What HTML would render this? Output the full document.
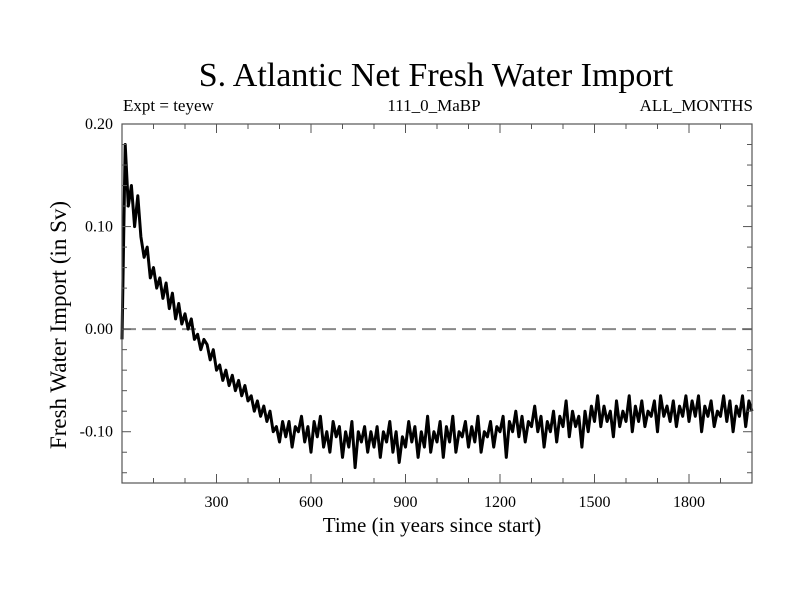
<!DOCTYPE html>
<html><head><meta charset="utf-8"><style>body{margin:0;background:#fff}svg{display:block;font-family:"Liberation Serif",serif}</style></head>
<body>
<svg id="chart" width="800" height="600">
<text x="436" y="86" font-size="34" text-anchor="middle">S. Atlantic Net Fresh Water Import</text>
<text x="123" y="111" font-size="17">Expt = teyew</text>
<text x="434" y="111" font-size="17" text-anchor="middle">111_0_MaBP</text>
<text x="753" y="111" font-size="17" text-anchor="end">ALL_MONTHS</text>
<text x="432" y="532" font-size="21" text-anchor="middle">Time (in years since start)</text>
<text transform="translate(66,325) rotate(-90)" font-size="23" text-anchor="middle">Fresh Water Import (in Sv)</text>
<g id="axes"></g>
</svg>
<script>
const xTicks=[300,600,900,1200,1500,1800];
const yTicks=[0.2,0.1,0,-0.1];
const yTickLabels=["0.20","0.10","0.00","-0.10"];
const startYear=0, stepYears=10;
const values=[-0.01,0.18,0.12,0.14,0.10,0.13,0.09,0.07,0.08,0.05,0.06,
0.04,0.05,0.03,0.045,0.02,0.035,0.01,0.025,0.005,0.015,
0.0,0.01,-0.01,-0.005,-0.02,-0.01,-0.015,-0.03,-0.02,-0.04,
-0.035,-0.05,-0.04,-0.055,-0.045,-0.06,-0.05,-0.065,-0.055,-0.07,
-0.065,-0.08,-0.07,-0.085,-0.075,-0.09,-0.08,-0.1,-0.095,-0.11,
-0.09,-0.105,-0.09,-0.115,-0.095,-0.1,-0.085,-0.11,-0.095,-0.12,
-0.09,-0.105,-0.085,-0.115,-0.1,-0.12,-0.09,-0.105,-0.095,-0.125,
-0.1,-0.115,-0.09,-0.135,-0.1,-0.11,-0.095,-0.12,-0.1,-0.115,
-0.095,-0.125,-0.1,-0.11,-0.09,-0.12,-0.1,-0.13,-0.105,-0.115,
-0.09,-0.11,-0.095,-0.125,-0.1,-0.115,-0.085,-0.12,-0.1,-0.11,
-0.09,-0.125,-0.095,-0.11,-0.085,-0.12,-0.1,-0.105,-0.09,-0.115,
-0.095,-0.11,-0.085,-0.12,-0.1,-0.105,-0.09,-0.115,-0.095,-0.1,
-0.085,-0.125,-0.09,-0.1,-0.08,-0.105,-0.085,-0.11,-0.09,-0.095,
-0.075,-0.1,-0.085,-0.115,-0.09,-0.1,-0.08,-0.11,-0.085,-0.095,
-0.07,-0.105,-0.08,-0.095,-0.085,-0.115,-0.08,-0.1,-0.075,-0.09,
-0.065,-0.095,-0.075,-0.09,-0.08,-0.105,-0.07,-0.095,-0.08,-0.09,
-0.065,-0.1,-0.075,-0.09,-0.07,-0.095,-0.08,-0.085,-0.07,-0.1,
-0.065,-0.085,-0.075,-0.09,-0.07,-0.095,-0.075,-0.085,-0.065,-0.09,
-0.07,-0.085,-0.065,-0.1,-0.075,-0.085,-0.07,-0.095,-0.08,-0.085,
-0.065,-0.09,-0.07,-0.1,-0.075,-0.085,-0.065,-0.095,-0.07,-0.08];

const L=122,R=752,T=124,B=483,X0=0,X1=2000,Y0=-0.15,Y1=0.2;
const xs=v=>L+(v-X0)/(X1-X0)*(R-L);
const ys=v=>B-(v-Y0)/(Y1-Y0)*(B-T);
const NS="http://www.w3.org/2000/svg";
const g=document.getElementById('axes');
function mk(t,a){const e=document.createElementNS(NS,t);for(const k in a)e.setAttribute(k,a[k]);g.appendChild(e);return e;}

const zero=mk('line',{x1:L,x2:R,y1:ys(0),y2:ys(0),stroke:'#888','stroke-width':2,'stroke-dasharray':'14,6'});



let d='';
values.forEach((v,i)=>{d+=(i?'L':'M')+xs(startYear+i*stepYears).toFixed(1)+','+ys(v).toFixed(1);});
const line=mk('path',{d:d,fill:'none',stroke:'#000','stroke-width':3,'stroke-linejoin':'round'});



const frame=mk('rect',{x:L,y:T,width:R-L,height:B-T,fill:'none',stroke:'#555','stroke-width':1.2});



for(let yr=100;yr<X1;yr+=100){
  const maj=yr%300===0, len=maj?9:5, x=xs(yr);
  const t1=mk('line',{x1:x,x2:x,y1:B,y2:B-len,stroke:'#555'});
  
  
  const t2=mk('line',{x1:x,x2:x,y1:T,y2:T+len,stroke:'#555'});
  
  
}
xTicks.forEach(v=>{
  const t=mk('text',{x:xs(v),y:507,'font-size':16,'text-anchor':'middle'});t.textContent=v;
  
  
});
for(let k=-7;k<=10;k++){
  const v=k*0.02, y=ys(v), maj=k%5===0, len=maj?9:5;
  const t1=mk('line',{x1:L,x2:L+len,y1:y,y2:y,stroke:'#555'});
  
  
  const t2=mk('line',{x1:R,x2:R-len,y1:y,y2:y,stroke:'#555'});
  
  
}
yTicks.forEach((v,i)=>{
  const t=mk('text',{x:113,y:ys(v)+5,'font-size':16,'text-anchor':'end'});t.textContent=yTickLabels[i];
  
  
});
</script>
</body></html>
